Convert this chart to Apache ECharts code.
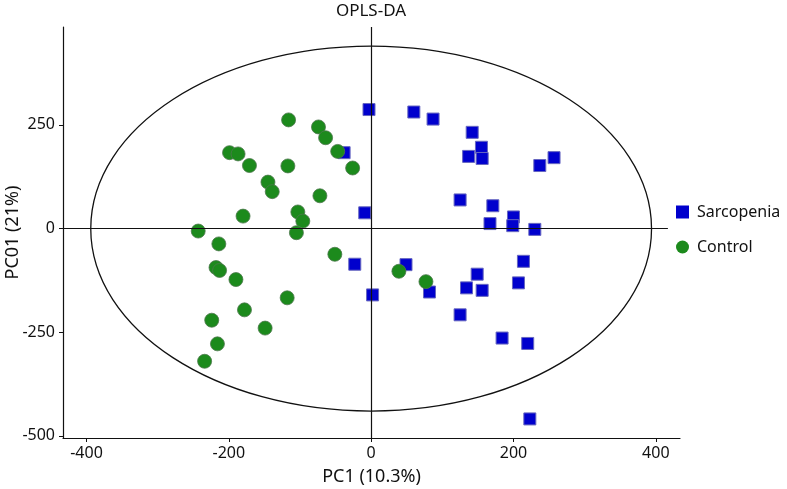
<!DOCTYPE html>
<html>
<head>
<meta charset="utf-8">
<script src="https://cdn.jsdelivr.net/npm/echarts@6/dist/echarts.min.js"></script>
<style>
html,body{margin:0;padding:0;background:#fff;}
#chart{width:787px;height:489px;}
</style>
</head>
<body>
<div id="chart"></div>
<script>
var sarcopenia = [
  [-3, 287], [-9, 38], [-38, 183], [-23, -86], [2, -160],
  [60, 281], [87, 264], [142, 232], [155, 196], [137, 174],
  [156, 169], [257, 171], [237, 152], [125, 69], [171, 55],
  [200, 28], [167, 12], [199, 7], [230, -2], [49, -87],
  [214, -79], [149, -110], [82, -153], [134, -143], [156, -149],
  [207, -131], [125, -208], [184, -264], [220, -277], [223, -459]
];
var control = [
  [-116, 262], [-74, 245], [-64, 219], [-47, 186], [-199, 183],
  [-187, 180], [-171, 152], [-117, 151], [-26, 146], [-145, 112],
  [-139, 89], [-72, 79], [-180, 30], [-103, 40], [-96, 18],
  [-105, -10], [-243, -6], [-214, -37], [-51, -62], [39, -103],
  [-218, -94], [-213, -101], [-190, -123], [-118, -167], [-178, -196],
  [-224, -221], [-149, -240], [-216, -278], [-234, -320], [77, -128]
];
var xTicks = [-400, -200, 0, 200, 400];
var yTicks = [-500, -250, 0, 250];
var ellipse = [0, 0, 394, 440]; // center x, center y, radius x, radius y

var font = 'Noto Sans';
var chart = echarts.init(document.getElementById('chart'));
chart.setOption({
  animation: false,
  textStyle: {fontFamily: font},
  title: {
    text: 'OPLS-DA', left: 371, top: 3, textAlign: 'center', padding: 0,
    textStyle: {fontFamily: font, fontSize: 17, fontWeight: 'normal', color: '#111'}
  },
  grid: {left: 63, right: 107, top: 27, bottom: 51, containLabel: false, outerBoundsMode: 'none'},
  legend: {
    orient: 'vertical', left: 676, top: 204, itemGap: 19, padding: 0,
    itemWidth: 13, itemHeight: 13,
    textStyle: {fontFamily: font, fontSize: 16, color: '#111', padding: [0, 0, 0, 3]},
    data: [
      {name: 'Sarcopenia', icon: 'rect', itemStyle: {borderWidth: 0, opacity: 1}},
      {name: 'Control', icon: 'circle', itemStyle: {borderWidth: 0, opacity: 1}}
    ]
  },
  xAxis: {
    type: 'value', min: -433, max: 434,
    name: 'PC1 (10.3%)', nameLocation: 'middle', nameGap: 30, nameMoveOverlap: false,
    nameTextStyle: {fontFamily: font, fontSize: 18, color: '#111'},
    axisLine: {show: true, onZero: false, lineStyle: {color: '#111', width: 1.2}},
    axisTick: {show: true, length: 4, customValues: xTicks, lineStyle: {color: '#111'}},
    axisLabel: {customValues: xTicks, fontSize: 16, color: '#111', margin: 7, fontFamily: font},
    splitLine: {show: false}
  },
  yAxis: {
    type: 'value', min: -505, max: 486,
    name: 'PC01 (21%)', nameLocation: 'middle', nameGap: 41, nameMoveOverlap: false,
    nameTextStyle: {fontFamily: font, fontSize: 18, color: '#111'},
    axisLine: {show: true, onZero: false, lineStyle: {color: '#111', width: 1.2}},
    axisTick: {show: true, length: 4, customValues: yTicks, lineStyle: {color: '#111'}},
    axisLabel: {customValues: yTicks, fontSize: 16, color: '#111', margin: 8, fontFamily: font},
    splitLine: {show: false}
  },
  series: [
    {
      type: 'custom', silent: true, z: 1,
      data: [ellipse],
      renderItem: function (params, api) {
        var c = api.coord([api.value(0), api.value(1)]);
        var s = api.size([api.value(2), api.value(3)]);
        return {
          type: 'ellipse',
          shape: {cx: c[0], cy: c[1], rx: s[0], ry: s[1]},
          style: {fill: 'none', stroke: '#111', lineWidth: 1.3}
        };
      },
      markLine: {
        silent: true, symbol: 'none', animation: false,
        label: {show: false},
        lineStyle: {color: '#111', width: 1.2, type: 'solid'},
        data: [
          [{coord: [-433, 0]}, {coord: [417, 0]}],
          [{coord: [0, -505]}, {coord: [0, 486]}]
        ]
      }
    },
    {
      name: 'Sarcopenia', type: 'scatter', symbol: 'rect', symbolSize: 12, z: 3,
      data: sarcopenia,
      itemStyle: {color: '#0000CD', borderColor: '#6666c0', borderWidth: 1, opacity: 1}
    },
    {
      name: 'Control', type: 'scatter', symbol: 'circle', symbolSize: 14, z: 4,
      data: control,
      itemStyle: {color: '#1C8A1C', borderColor: '#4d774d', borderWidth: 0.8, opacity: 1}
    }
  ]
});
</script>
</body>
</html>
